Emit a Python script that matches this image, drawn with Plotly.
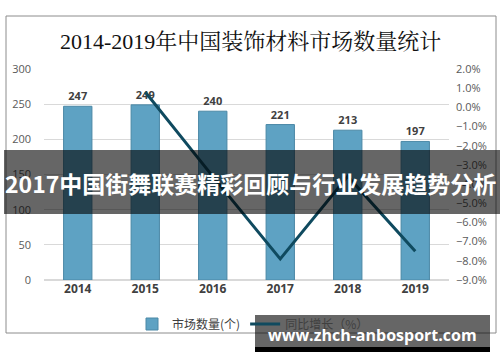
import plotly.graph_objects as go

years = ["2014", "2015", "2016", "2017", "2018", "2019"]
quantity = [247, 249, 240, 221, 213, 197]
yoy_years = ["2015", "2016", "2017", "2018", "2019"]
yoy = [0.008, -0.036, -0.079, -0.036, -0.075]

W, H = 500, 362
L, R, T, B = 44, 51, 69, 82
PW, PH = W - L - R, H - T - B

def px(x):
    return (x - L) / PW

def py(y):
    return (H - B - y) / PH

fig = go.Figure()
fig.add_trace(go.Bar(
    x=years, y=quantity, name="市场数量(个)",
    marker=dict(color="#5ea2c3", line=dict(color="#4b88a6", width=1)),
    text=[str(v) for v in quantity], textposition="outside",
    textfont=dict(size=11, color="#404040", family="Open Sans", weight="bold"),
    cliponaxis=False, width=0.42,
))
fig.add_trace(go.Scatter(
    x=yoy_years, y=yoy, name="同比增长（%）", yaxis="y2", mode="lines",
    line=dict(color="#0f4a5f", width=3),
))

shapes = [
    dict(type="rect", xref="paper", yref="paper", x0=px(6), x1=px(496), y0=py(16), y1=py(333),
         line=dict(color="#8c8c8c", width=1), fillcolor="rgba(0,0,0,0)", layer="below"),
    dict(type="rect", xref="paper", yref="paper", x0=px(4), x1=px(500), y0=py(150), y1=py(214),
         line=dict(width=0), fillcolor="rgba(0,0,0,0.6)", layer="above"),
    dict(type="rect", xref="paper", yref="paper", x0=px(255), x1=px(490), y0=py(315), y1=py(347),
         line=dict(width=0), fillcolor="rgba(0,0,0,0.6)", layer="above"),
    dict(type="rect", xref="paper", yref="paper", x0=px(255), x1=px(490), y0=py(347), y1=py(352),
         line=dict(width=0), fillcolor="#000000", layer="above"),
]
annotations = [
    dict(text="2014-2019年中国装饰材料市场数量统计", xref="paper", yref="paper",
         x=px(251), y=py(42), showarrow=False, xanchor="center", yanchor="middle",
         font=dict(family="Liberation Serif, Noto Serif CJK SC, Noto Sans CJK SC", size=22, color="#111111")),
    dict(text="<b>2017中国街舞联赛精彩回顾与行业发展趋势分析</b>", xref="paper", yref="paper",
         x=px(250), y=py(183), showarrow=False, xanchor="center", yanchor="middle",
         font=dict(family="Noto Sans CJK SC", size=23, color="#ffffff")),
    dict(text="<b>www.zhch-anbosport.com</b>", xref="paper", yref="paper",
         x=px(372), y=py(335), showarrow=False, xanchor="center", yanchor="middle",
         font=dict(family="Open Sans", size=16, color="#ffffff")),
]

fig.update_layout(
    width=W, height=H,
    margin=dict(l=L, r=R, t=T, b=B, autoexpand=False),
    paper_bgcolor="white", plot_bgcolor="white",
    showlegend=True,
    legend=dict(orientation="h", x=px(132), y=py(324), xanchor="left", yanchor="middle",
                font=dict(size=12, color="#404040", family="Noto Sans CJK SC"),
                bgcolor="rgba(0,0,0,0)", itemwidth=30),
    bargap=0.58,
    xaxis=dict(showgrid=False, showline=False, ticks="",
               tickfont=dict(size=12, color="#404040", family="Open Sans", weight="bold")),
    yaxis=dict(range=[0, 300], dtick=50, showgrid=True, gridcolor="#d9d9d9", gridwidth=1,
               zeroline=True, zerolinecolor="#d9d9d9", showline=False, ticks="",
               tickfont=dict(size=11, color="#595959", family="Open Sans"), ticklabelstandoff=12),
    yaxis2=dict(range=[-0.09, 0.02], dtick=0.01, tickformat=".1%", overlaying="y", side="right",
                showgrid=False, zeroline=False, showline=False, ticks="",
                tickfont=dict(size=11, color="#595959", family="Open Sans"), ticklabelstandoff=6),
    shapes=shapes, annotations=annotations,
)
fig.write_html("out.html", config={"displayModeBar": False},
               post_script="document.body.style.margin='0';document.body.style.overflow='hidden';")
